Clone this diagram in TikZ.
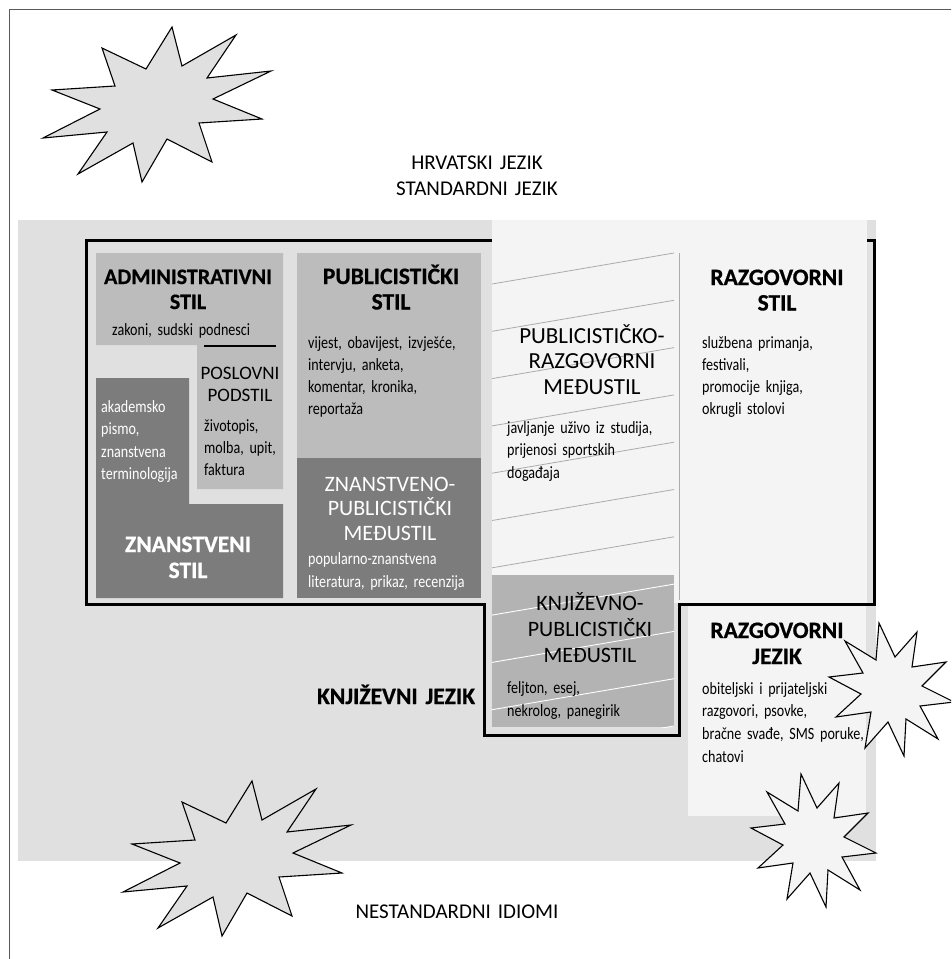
\documentclass[tikz,border=0pt]{standalone}
\usepackage{fontspec}
\setmainfont{Carlito}
\newfontfamily\condfont[FakeStretch=0.82, WordSpace=0.75]{Carlito}
\newfontfamily\heavyfont[BoldFeatures={FakeBold=0.7}]{Carlito}
\definecolor{bggray}{HTML}{E0E0E0}
\definecolor{paleshade}{HTML}{F4F4F4}
\definecolor{midshade}{HTML}{BCBCBC}
\definecolor{darkshade}{HTML}{7C7C7C}
\definecolor{litshade}{HTML}{B3B3B3}
\definecolor{hatchgray}{HTML}{ABABAB}
\definecolor{framegray}{HTML}{5A5A5A}

% condensed body text
\newcommand{\bodyfont}[2]{\condfont\fontsize{#1}{#2}\selectfont}

\tikzset{
  burstline/.style={draw=black, line width=1.1pt, line join=miter},
  burst big/.pic={
    \path[burstline, fill=bggray]
      (172,27) -- (182,66) -- (236,35) -- (207,78) -- (271,71) -- (213,99)
      -- (262,119) -- (199,123) -- (212,162) -- (167,139) -- (142,182)
      -- (133,143) -- (78,174) -- (107,132) -- (43,138) -- (100,109)
      -- (52,90) -- (115,86) -- (102,48) -- (146,69) -- cycle;
  },
  burst small/.pic={
    \path[burstline, fill=paleshade]
      (801,774) -- (817,808) -- (839,783) -- (834,818) -- (868,813)
      -- (844,837) -- (876,853) -- (842,857) -- (860,890) -- (828,870)
      -- (826,907) -- (810,873) -- (787,899) -- (793,863) -- (758,868)
      -- (783,845) -- (751,828) -- (785,824) -- (767,792) -- (798,811) -- cycle;
  },
  boldhead/.style={font=\heavyfont\bfseries\fontsize{23.5}{25.5}\selectfont, text width=240pt,
    align=center, inner sep=0pt, anchor=base},
  lighthead/.style={font=\fontsize{22}{25.5}\selectfont, text width=240pt,
    align=center, inner sep=0pt, anchor=base},
  bodytext/.style={font=\bodyfont{17.2}{22}, text width=260pt,
    align=left, inner sep=0pt, anchor=base west},
}

\begin{document}
\begin{tikzpicture}[x=1pt, y=-1pt]
\useasboundingbox (0,0) rectangle (951,959);
\clip (0,0) rectangle (951,959);
\fill[white] (0,0) rectangle (951,959);

% outer frame
\draw[framegray, line width=1.5pt] (9.5,9.5) rectangle (990,990);

% burst above the standard language
\pic at (0,0) {burst big};

% standard language area
\fill[bggray] (18,220) rectangle (876,861);

% conversational column
\fill[paleshade] (492,220) rectangle (867,603);
\fill[paleshade] (688,605) rectangle (866,816);

% boundary of the literary language
\draw[black, line width=3pt, line join=miter]
  (492,240) -- (86,240) -- (86,604) -- (484,604) -- (484,735) -- (679,735)
  -- (679,604) -- (874,604) -- (874,240) -- (867,240);

% style boxes
\fill[midshade] (96,253) -- (283,253) -- (283,489) -- (197,489) -- (197,345) -- (96,345) -- cycle;
\fill[darkshade] (96,378) -- (189,378) -- (189,504) -- (283,504) -- (283,598) -- (96,598) -- cycle;
\fill[midshade] (297,253) rectangle (481,458);
\fill[darkshade] (297,458) rectangle (481,598);
\fill[litshade] (492,575) rectangle (674,727);

% hatching of the intermediate styles
\begin{scope}
  \clip (492,220) rectangle (674,575);
  \foreach \k in {0,...,6}
    \draw[hatchgray, line width=0.8pt] (492,{284+47.3*\k}) -- (674,{253+47.3*\k});
\end{scope}
\begin{scope}
  \clip (492,575) rectangle (674,727);
  \foreach \k in {7,...,10}
    \draw[white, line width=0.9pt] (492,{284+47.3*\k}) -- (674,{253+47.3*\k});
\end{scope}
\draw[hatchgray, line width=0.8pt] (679,253) -- (679,600);

% separator above the business substyle
\draw[black, line width=2.5pt] (204,346) -- (276,346);

% headings
\node[lighthead, font=\fontsize{21}{26}\selectfont] (hrv) at (477,169.5) {HRVATSKI JEZIK\\STANDARDNI JEZIK};
\node[lighthead, font=\fontsize{21}{26}\selectfont] (nest) at (457,918.5) {NESTANDARDNI IDIOMI};

% administrative style
\node[boldhead, font=\heavyfont\bfseries\fontsize{22}{25}\selectfont] (adm) at (188,284) {ADMINISTRATIVNI\\STIL};
\node[bodytext] (admtxt) at (112,335) {zakoni, sudski podnesci};
\node[lighthead, font=\fontsize{19}{22}\selectfont] (posl) at (240,379) {POSLOVNI\\PODSTIL};
\node[bodytext] (posltxt) at (204,431) {životopis,\\molba, upit,\\faktura};

% scientific style
\node[bodytext, text=white, font=\bodyfont{17.2}{22.5}] (znantxt) at (101,412)
  {akademsko\\pismo,\\znanstvena\\terminologija};
\node[boldhead, text=white, font=\heavyfont\bfseries\fontsize{23.5}{26}\selectfont] (znan) at (188,552) {ZNANSTVENI\\STIL};

% journalistic style
\node[boldhead] (publ) at (391,284) {PUBLICISTIČKI\\STIL};
\node[bodytext] (publtxt) at (308,348) {vijest, obavijest, izvješće,\\intervju, anketa,\\komentar, kronika,\\reportaža};
\node[lighthead, text=white, font=\fontsize{22}{24.5}\selectfont] (znpub) at (390,491)
  {ZNANSTVENO-\\PUBLICISTIČKI\\MEĐUSTIL};
\node[bodytext, text=white, font=\bodyfont{17.2}{23}] (znpubtxt) at (308,564)
  {popularno-znanstvena\\literatura, prikaz, recenzija};

% intermediate styles
\node[lighthead, font=\fontsize{23}{25.5}\selectfont] (pubrazg) at (592,343) {PUBLICISTIČKO-\\RAZGOVORNI\\MEĐUSTIL};
\node[bodytext, font=\bodyfont{17.2}{22.5}] (pubrazgtxt) at (507,433)
  {javljanje uživo iz studija,\\prijenosi sportskih\\događaja};
\node[lighthead, font=\fontsize{22}{26}\selectfont] (knjpub) at (590,610) {KNJIŽEVNO-\\PUBLICISTIČKI\\MEĐUSTIL};
\node[bodytext, font=\bodyfont{17.2}{23}] (knjpubtxt) at (507,693) {feljton, esej,\\nekrolog, panegirik};

% conversational style and language
\node[boldhead] (razgstil) at (777,285) {RAZGOVORNI\\STIL};
\node[bodytext] (razgstiltxt) at (702,348) {službena primanja,\\festivali,\\promocije knjiga,\\okrugli stolovi};
\node[boldhead, font=\heavyfont\bfseries\fontsize{23.5}{26}\selectfont] (razgjez) at (777,638) {RAZGOVORNI\\JEZIK};
\node[bodytext, font=\bodyfont{17.2}{22.7}] (razgjeztxt) at (702,694)
  {obiteljski i prijateljski\\razgovori, psovke,\\bračne svađe, SMS poruke,\\chatovi};

\node[boldhead] (knjjez) at (396,704) {KNJIŽEVNI JEZIK};

% bursts of non-standard idioms
\pic at (80,754) {burst big};
\pic at (78,-151) {burst small};
\pic at (0,0) {burst small};
\end{tikzpicture}
\end{document}
